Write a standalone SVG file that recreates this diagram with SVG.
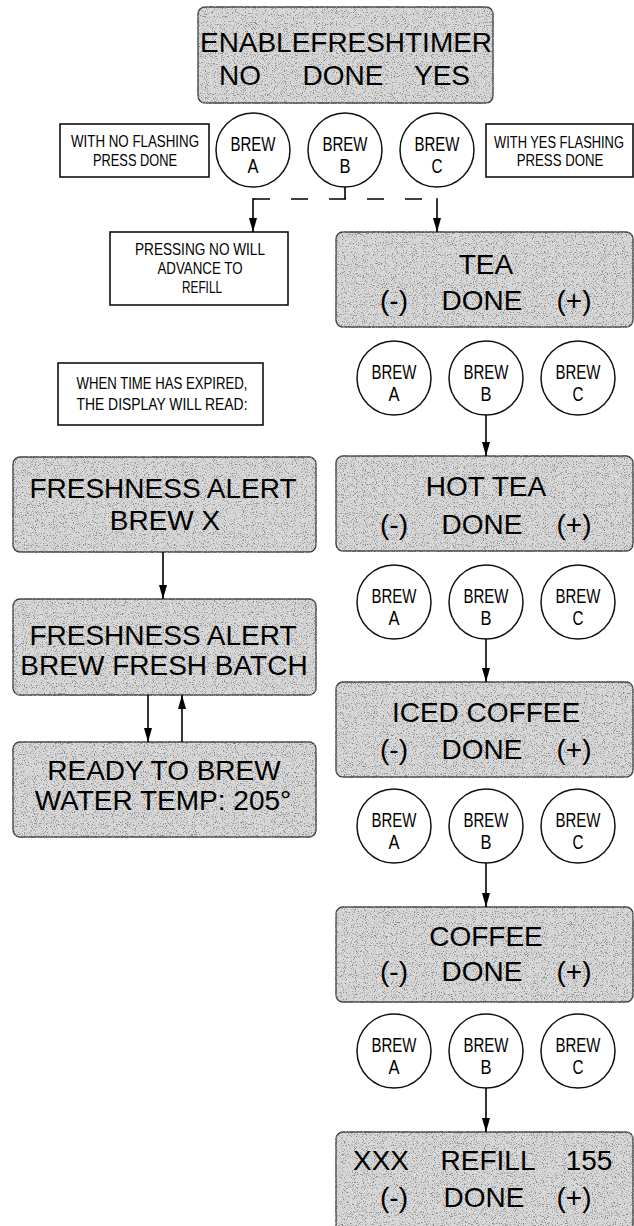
<svg xmlns="http://www.w3.org/2000/svg" width="634" height="1226" viewBox="0 0 634 1226">
<style>
  .disp { fill: #d9d9d9; stroke: #3a3a3a; stroke-width: 1.4; filter: url(#grain); }
  .note { fill: #ffffff; stroke: #111; stroke-width: 1.6; }
  .btn { fill: #ffffff; stroke: #111; stroke-width: 1.5; }
  .big { font-family: "Liberation Sans", Arial, sans-serif; font-size: 28px; fill: #000; text-anchor: middle; }
  .small { font-family: "Liberation Sans", Arial, sans-serif; font-size: 16.5px; fill: #000; text-anchor: middle; }
  .bt { font-family: "Liberation Sans", Arial, sans-serif; font-size: 21px; fill: #000; text-anchor: middle; }
  .ln { stroke: #000; stroke-width: 1.6; fill: none; }
  .dash { stroke: #000; stroke-width: 1.6; fill: none; stroke-dasharray: 17 21; }
</style>
<defs>
  <filter id="grain" x="-2%" y="-2%" width="104%" height="104%">
    <feTurbulence type="fractalNoise" baseFrequency="0.9" numOctaves="2" seed="7" result="n"/>
    <feColorMatrix in="n" type="matrix" values="0 0 0 0 0.25  0 0 0 0 0.25  0 0 0 0 0.25  5 0 0 0 -2.6" result="dots"/>
    <feComposite in="dots" in2="SourceGraphic" operator="atop"/>
  </filter>
  <marker id="ahd" viewBox="0 0 14 8" refX="14" refY="4" markerWidth="14" markerHeight="8" markerUnits="userSpaceOnUse" orient="auto">
    <path d="M0,0 L14,4 L0,8 z" fill="#000"/>
  </marker>
</defs>
<rect width="634" height="1226" fill="#ffffff"/>

<!-- Top display -->
<g id="enable-display">
  <rect class="disp" x="198" y="7" width="295" height="96" rx="7"/>
  <text class="big" x="346" y="52" textLength="292" lengthAdjust="spacingAndGlyphs">ENABLEFRESHTIMER</text>
  <text class="big" x="240" y="85">NO</text>
  <text class="big" x="343" y="85">DONE</text>
  <text class="big" x="442" y="85">YES</text>
</g>

<g id="note-no">
  <rect class="note" x="60" y="124" width="149" height="53"/>
  <text class="small" x="135" y="147" textLength="128" lengthAdjust="spacingAndGlyphs">WITH NO FLASHING</text>
  <text class="small" x="135" y="166" textLength="84" lengthAdjust="spacingAndGlyphs">PRESS DONE</text>
</g>
<g id="note-yes">
  <rect class="note" x="486" y="124" width="147" height="53"/>
  <text class="small" transform="translate(559,148) scale(0.78,1)" x="0" y="0">WITH YES FLASHING</text>
  <text class="small" transform="translate(560,166) scale(0.8,1)" x="0" y="0">PRESS DONE</text>
</g>

<g id="r1-brew-a"><circle class="btn" cx="253" cy="150" r="37"/><text class="bt" x="253" y="151" textLength="45" lengthAdjust="spacingAndGlyphs">BREW</text><text class="bt" x="253" y="173" textLength="11" lengthAdjust="spacingAndGlyphs">A</text></g>
<g id="r1-brew-b"><circle class="btn" cx="345" cy="150" r="37"/><text class="bt" x="345" y="151" textLength="45" lengthAdjust="spacingAndGlyphs">BREW</text><text class="bt" x="345" y="173" textLength="11" lengthAdjust="spacingAndGlyphs">B</text></g>
<g id="r1-brew-c"><circle class="btn" cx="437" cy="150" r="37"/><text class="bt" x="437" y="151" textLength="45" lengthAdjust="spacingAndGlyphs">BREW</text><text class="bt" x="437" y="173" textLength="11" lengthAdjust="spacingAndGlyphs">C</text></g>

<g id="note-refill">
  <rect class="note" x="110" y="232" width="178" height="73"/>
  <text class="small" x="200" y="255" textLength="130" lengthAdjust="spacingAndGlyphs">PRESSING NO WILL</text>
  <text class="small" x="200" y="274" textLength="85" lengthAdjust="spacingAndGlyphs">ADVANCE TO</text>
  <text class="small" x="202" y="293" textLength="40" lengthAdjust="spacingAndGlyphs">REFILL</text>
</g>

<!-- Right column displays -->
<g id="tea">
  <rect class="disp" x="336" y="232" width="297" height="95" rx="7"/>
  <text class="big" x="486" y="274">TEA</text>
  <text class="big" x="394" y="310">(-)</text>
  <text class="big" x="482" y="310">DONE</text>
  <text class="big" x="574" y="310">(+)</text>
</g>
<g id="r2-brew-a"><circle class="btn" cx="394" cy="378" r="37"/><text class="bt" x="394" y="379" textLength="45" lengthAdjust="spacingAndGlyphs">BREW</text><text class="bt" x="394" y="401" textLength="11" lengthAdjust="spacingAndGlyphs">A</text></g>
<g id="r2-brew-b"><circle class="btn" cx="486" cy="378" r="37"/><text class="bt" x="486" y="379" textLength="45" lengthAdjust="spacingAndGlyphs">BREW</text><text class="bt" x="486" y="401" textLength="11" lengthAdjust="spacingAndGlyphs">B</text></g>
<g id="r2-brew-c"><circle class="btn" cx="578" cy="378" r="37"/><text class="bt" x="578" y="379" textLength="45" lengthAdjust="spacingAndGlyphs">BREW</text><text class="bt" x="578" y="401" textLength="11" lengthAdjust="spacingAndGlyphs">C</text></g>

<g id="hot-tea">
  <rect class="disp" x="336" y="456" width="297" height="95" rx="7"/>
  <text class="big" x="486" y="496">HOT TEA</text>
  <text class="big" x="394" y="534">(-)</text>
  <text class="big" x="482" y="534">DONE</text>
  <text class="big" x="574" y="534">(+)</text>
</g>
<g id="r3-brew-a"><circle class="btn" cx="394" cy="602" r="37"/><text class="bt" x="394" y="603" textLength="45" lengthAdjust="spacingAndGlyphs">BREW</text><text class="bt" x="394" y="625" textLength="11" lengthAdjust="spacingAndGlyphs">A</text></g>
<g id="r3-brew-b"><circle class="btn" cx="486" cy="602" r="37"/><text class="bt" x="486" y="603" textLength="45" lengthAdjust="spacingAndGlyphs">BREW</text><text class="bt" x="486" y="625" textLength="11" lengthAdjust="spacingAndGlyphs">B</text></g>
<g id="r3-brew-c"><circle class="btn" cx="578" cy="602" r="37"/><text class="bt" x="578" y="603" textLength="45" lengthAdjust="spacingAndGlyphs">BREW</text><text class="bt" x="578" y="625" textLength="11" lengthAdjust="spacingAndGlyphs">C</text></g>

<g id="iced-coffee">
  <rect class="disp" x="336" y="682" width="297" height="95" rx="7"/>
  <text class="big" x="486" y="722">ICED COFFEE</text>
  <text class="big" x="394" y="759">(-)</text>
  <text class="big" x="482" y="759">DONE</text>
  <text class="big" x="574" y="759">(+)</text>
</g>
<g id="r4-brew-a"><circle class="btn" cx="394" cy="826" r="37"/><text class="bt" x="394" y="827" textLength="45" lengthAdjust="spacingAndGlyphs">BREW</text><text class="bt" x="394" y="849" textLength="11" lengthAdjust="spacingAndGlyphs">A</text></g>
<g id="r4-brew-b"><circle class="btn" cx="486" cy="826" r="37"/><text class="bt" x="486" y="827" textLength="45" lengthAdjust="spacingAndGlyphs">BREW</text><text class="bt" x="486" y="849" textLength="11" lengthAdjust="spacingAndGlyphs">B</text></g>
<g id="r4-brew-c"><circle class="btn" cx="578" cy="826" r="37"/><text class="bt" x="578" y="827" textLength="45" lengthAdjust="spacingAndGlyphs">BREW</text><text class="bt" x="578" y="849" textLength="11" lengthAdjust="spacingAndGlyphs">C</text></g>

<g id="coffee">
  <rect class="disp" x="336" y="907" width="297" height="95" rx="7"/>
  <text class="big" x="486" y="946">COFFEE</text>
  <text class="big" x="394" y="981">(-)</text>
  <text class="big" x="482" y="981">DONE</text>
  <text class="big" x="574" y="981">(+)</text>
</g>
<g id="r5-brew-a"><circle class="btn" cx="394" cy="1051" r="37"/><text class="bt" x="394" y="1052" textLength="45" lengthAdjust="spacingAndGlyphs">BREW</text><text class="bt" x="394" y="1074" textLength="11" lengthAdjust="spacingAndGlyphs">A</text></g>
<g id="r5-brew-b"><circle class="btn" cx="486" cy="1051" r="37"/><text class="bt" x="486" y="1052" textLength="45" lengthAdjust="spacingAndGlyphs">BREW</text><text class="bt" x="486" y="1074" textLength="11" lengthAdjust="spacingAndGlyphs">B</text></g>
<g id="r5-brew-c"><circle class="btn" cx="578" cy="1051" r="37"/><text class="bt" x="578" y="1052" textLength="45" lengthAdjust="spacingAndGlyphs">BREW</text><text class="bt" x="578" y="1074" textLength="11" lengthAdjust="spacingAndGlyphs">C</text></g>

<g id="refill">
  <rect class="disp" x="336" y="1132" width="297" height="100" rx="7"/>
  <text class="big" x="381" y="1170">XXX</text>
  <text class="big" x="488" y="1170">REFILL</text>
  <text class="big" x="589" y="1170">155</text>
  <text class="big" x="394" y="1207">(-)</text>
  <text class="big" x="484" y="1207">DONE</text>
  <text class="big" x="574" y="1207">(+)</text>
</g>

<!-- Left column -->
<g id="note-expired">
  <rect class="note" x="58" y="363" width="205" height="62"/>
  <text class="small" x="162" y="389" textLength="171" lengthAdjust="spacingAndGlyphs">WHEN TIME HAS EXPIRED,</text>
  <text class="small" x="162" y="410" textLength="171" lengthAdjust="spacingAndGlyphs">THE DISPLAY WILL READ:</text>
</g>
<g id="freshness-brew-x">
  <rect class="disp" x="13" y="457" width="303" height="95" rx="7"/>
  <text class="big" x="163" y="498">FRESHNESS ALERT</text>
  <text class="big" x="165" y="530">BREW X</text>
</g>
<g id="freshness-batch">
  <rect class="disp" x="13" y="599" width="303" height="96" rx="7"/>
  <text class="big" x="163" y="645">FRESHNESS ALERT</text>
  <text class="big" x="164" y="675">BREW FRESH BATCH</text>
</g>
<g id="ready-to-brew">
  <rect class="disp" x="13" y="742" width="303" height="95" rx="7"/>
  <text class="big" x="164" y="780">READY TO BREW</text>
  <text class="big" x="163" y="810">WATER TEMP: 205°</text>
</g>

<!-- Connectors -->
<g id="connectors">
  <line class="ln" x1="345" y1="187" x2="345" y2="199"/>
  <line class="dash" x1="253" y1="199" x2="437" y2="199"/>
  <line class="ln" x1="253" y1="198.2" x2="253" y2="232" marker-end="url(#ahd)"/>
  <line class="ln" x1="437" y1="198.2" x2="437" y2="232" marker-end="url(#ahd)"/>
  <line class="ln" x1="486" y1="415" x2="486" y2="456" marker-end="url(#ahd)"/>
  <line class="ln" x1="486" y1="639" x2="486" y2="682" marker-end="url(#ahd)"/>
  <line class="ln" x1="486" y1="863" x2="486" y2="907" marker-end="url(#ahd)"/>
  <line class="ln" x1="486" y1="1088" x2="486" y2="1132" marker-end="url(#ahd)"/>
  <line class="ln" x1="163" y1="552" x2="163" y2="599" marker-end="url(#ahd)"/>
  <line class="ln" x1="148" y1="695" x2="148" y2="742" marker-end="url(#ahd)"/>
  <line class="ln" x1="182" y1="742" x2="182" y2="695" marker-end="url(#ahd)"/>
</g>
</svg>
